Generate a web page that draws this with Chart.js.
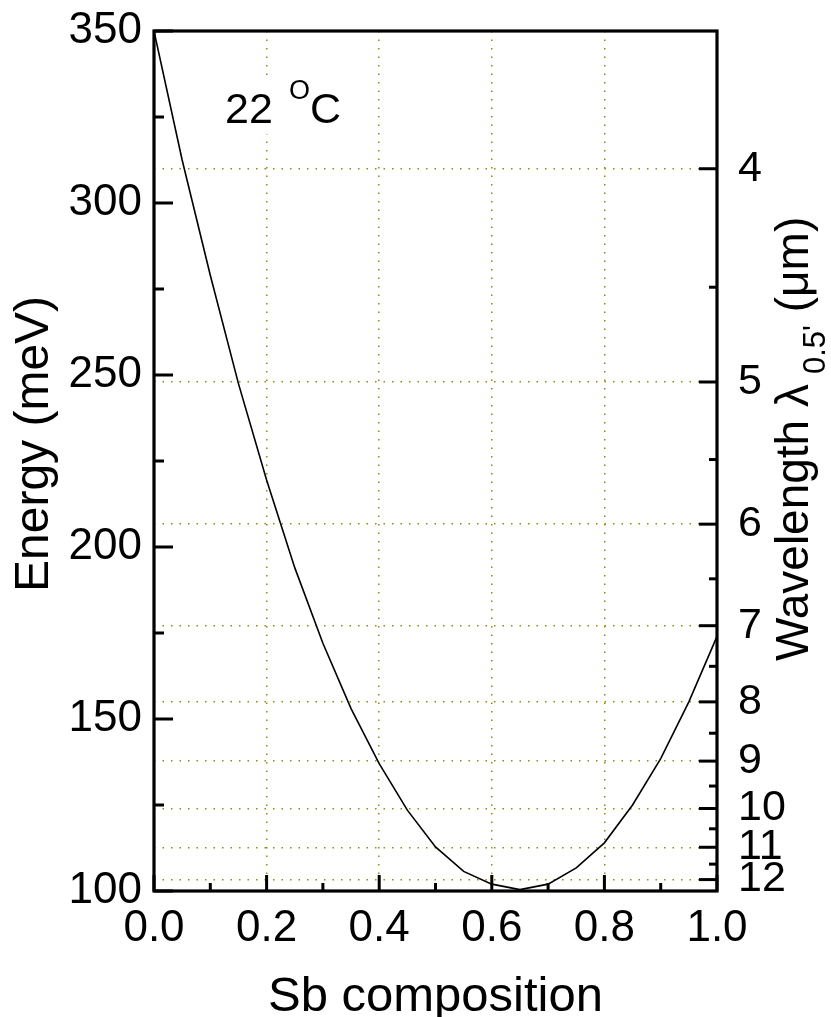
<!DOCTYPE html>
<html>
<head>
<meta charset="utf-8">
<script src="https://cdn.jsdelivr.net/npm/chart.js@4/dist/chart.umd.min.js"></script>
<style>
  html, body { margin: 0; padding: 0; background: #ffffff; }
  canvas { display: block; }
</style>
</head>
<body>
<canvas id="c" width="831" height="1017"></canvas>
<script>
// ---- data ----
const sbComposition = [0.00, 0.05, 0.10, 0.15, 0.20, 0.25, 0.30, 0.35, 0.40, 0.45, 0.50,
                       0.55, 0.60, 0.65, 0.70, 0.75, 0.80, 0.85, 0.90, 0.95, 1.00];
const energyMeV = [350, 312.5, 279, 247.5, 219.5, 194, 172, 153, 137, 123.5, 112.8,
                   105.7, 102, 100.4, 102, 106.7, 114, 125, 138.5, 155, 174];

const xMajorTicks = [0.0, 0.2, 0.4, 0.6, 0.8, 1.0];
const xMinorTicks = [0.1, 0.3, 0.5, 0.7, 0.9];
const energyTicks = [100, 150, 200, 250, 300, 350];
const energyMinorTicks = [125, 175, 225, 275, 325];
const wavelengthTicks = [4, 5, 6, 7, 8, 9, 10, 11, 12];
const wavelengthMinorTicks = [4.5, 5.5, 6.5, 7.5, 8.5, 9.5, 10.5, 11.5];

const HC = 1239.84; // meV * um, energy <-> wavelength

const FONT = "'Liberation Sans', Arial, sans-serif";
const GRID_COLOR = '#8e8e0a';

const noPad = s => { s.paddingTop = 0; s.paddingBottom = 0; s.paddingLeft = 0; s.paddingRight = 0; };

const overlay = {
  id: 'overlay',
  afterDraw(chart) {
    const { ctx, chartArea: a, scales } = chart;
    const xs = scales.x, ys = scales.y;
    ctx.save();
    ctx.strokeStyle = '#000';
    ctx.lineCap = 'butt';
    ctx.lineWidth = 3;
    const seg = (x1, y1, x2, y2) => { ctx.beginPath(); ctx.moveTo(x1, y1); ctx.lineTo(x2, y2); ctx.stroke(); };
    // inward tick marks
    xMajorTicks.forEach(v => { const p = xs.getPixelForValue(v); seg(p, a.bottom, p, a.bottom - 16); });
    xMinorTicks.forEach(v => { const p = xs.getPixelForValue(v); seg(p, a.bottom, p, a.bottom - 8); });
    energyTicks.forEach(v => { const p = ys.getPixelForValue(v); seg(a.left, p, a.left + 19, p); });
    energyMinorTicks.forEach(v => { const p = ys.getPixelForValue(v); seg(a.left, p, a.left + 10, p); });
    wavelengthTicks.forEach(l => { const p = ys.getPixelForValue(HC / l); seg(a.right, p, a.right - 18, p); });
    wavelengthMinorTicks.forEach(l => { const p = ys.getPixelForValue(HC / l); seg(a.right, p, a.right - 8, p); });
    // frame
    ctx.lineWidth = 3.2;
    ctx.strokeRect(a.left, a.top, a.right - a.left, a.bottom - a.top);

    ctx.fillStyle = '#000';
    // annotation "22 °C"
    ctx.save();
    ctx.fillStyle = '#fff';
    ctx.fillRect(a.left + 66, a.top + 47, 126, 56);
    ctx.restore();
    ctx.textAlign = 'left';
    ctx.textBaseline = 'alphabetic';
    ctx.font = '43px ' + FONT;
    ctx.fillText('22', a.left + 71, a.top + 92);
    ctx.font = '27px ' + FONT;
    ctx.fillText('O', a.left + 135, a.top + 68);
    ctx.font = '43px ' + FONT;
    ctx.fillText('C', a.left + 156, a.top + 92);

    // bottom title
    ctx.font = '49px ' + FONT;
    ctx.textAlign = 'center';
    ctx.fillText('Sb composition', (a.left + a.right) / 2, 1011);

    // left title
    ctx.save();
    ctx.translate(48, 592);
    ctx.rotate(-Math.PI / 2);
    ctx.textAlign = 'left';
    ctx.font = '48px ' + FONT;
    ctx.fillText('Energy (meV)', 0, 0);
    ctx.restore();

    // right title with subscript
    ctx.save();
    ctx.translate(808, 661);
    ctx.rotate(-Math.PI / 2);
    ctx.textAlign = 'left';
    ctx.font = '46px ' + FONT;
    const t1 = 'Wavelength \u03BB';
    ctx.fillText(t1, 0, 0);
    let w = ctx.measureText(t1).width + 10;
    ctx.font = '31px ' + FONT;
    const sub = "0.5'";
    ctx.fillText(sub, w, 17);
    w += ctx.measureText(sub).width;
    ctx.font = '46px ' + FONT;
    ctx.fillText(' (\u03BCm)', w, 0);
    ctx.restore();

    ctx.restore();
  }
};

new Chart(document.getElementById('c'), {
  type: 'line',
  data: {
    datasets: [{
      data: sbComposition.map((x, i) => ({ x: x, y: energyMeV[i] })),
      borderColor: '#000',
      borderWidth: 1.6,
      pointRadius: 0,
      tension: 0,
      fill: false
    }]
  },
  options: {
    responsive: false,
    animation: false,
    devicePixelRatio: 1,
    layout: { padding: { top: 31, left: 0, right: 0, bottom: 0 } },
    plugins: { legend: { display: false }, tooltip: { enabled: false } },
    scales: {
      x: {
        type: 'linear',
        position: 'bottom',
        min: 0, max: 1,
        afterFit: s => { s.height = 126; noPad(s); },
        afterBuildTicks: s => { s.ticks = xMajorTicks.map(v => ({ value: v })); },
        ticks: {
          autoSkip: false, maxRotation: 0,
          padding: 11,
          color: '#000',
          font: { family: FONT, size: 44 },
          callback: v => Number(v).toFixed(1)
        },
        grid: {
          drawTicks: false,
          lineWidth: 1.5,
          color: c => (c.tick && c.tick.value > 0.001 && c.tick.value < 0.999) ? GRID_COLOR : 'rgba(0,0,0,0)'
        },
        border: { display: false, dash: [1.5, 7] }
      },
      y: {
        type: 'linear',
        position: 'left',
        min: 100, max: 350,
        afterFit: s => { s.width = 154; noPad(s); },
        afterBuildTicks: s => { s.ticks = energyTicks.map(v => ({ value: v })); },
        ticks: {
          autoSkip: false,
          padding: 12,
          color: '#000',
          font: { family: FONT, size: 44 }
        },
        grid: { display: false, drawTicks: false },
        border: { display: false }
      },
      yR: {
        type: 'linear',
        position: 'right',
        min: 100, max: 350,
        afterFit: s => { s.width = 114; noPad(s); },
        afterBuildTicks: s => { s.ticks = wavelengthTicks.map(l => ({ value: HC / l })); },
        ticks: {
          autoSkip: false,
          padding: 21,
          color: '#000',
          font: { family: FONT, size: 43 },
          callback: (v, i) => String(wavelengthTicks[i])
        },
        grid: {
          drawTicks: false,
          lineWidth: 1.5,
          color: GRID_COLOR
        },
        border: { display: false, dash: [1.5, 7] }
      }
    }
  },
  plugins: [overlay]
});
</script>
</body>
</html>
